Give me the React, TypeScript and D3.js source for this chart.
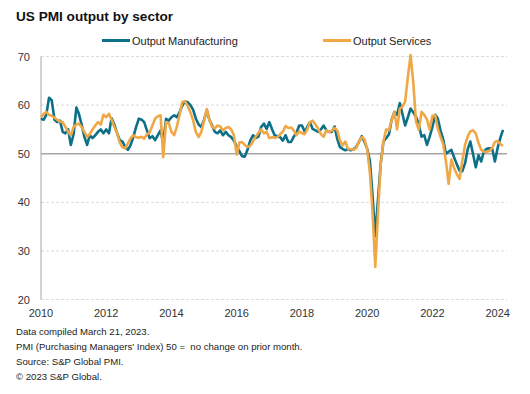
import { useEffect, useRef } from 'react';
import * as d3 from 'd3';

const WIDTH = 530;
const HEIGHT = 394;

// monthly series, Jan 2010 .. Mar 2024
const START_MONTH = new Date(2010, 0, 1);

const MANUFACTURING = [
  57.2, 57.0, 58.0, 61.5, 61.0, 57.0, 56.5, 56.8, 54.5, 54.2, 55.0, 51.8,
  54.0, 59.5, 58.2, 56.0, 53.5, 51.8, 53.8, 53.2, 53.8, 54.5, 55.0, 54.2,
  55.0, 54.2, 57.3, 56.0, 54.3, 52.8, 52.5, 51.4, 50.8, 51.8, 53.5, 55.5,
  57.2, 57.0, 56.5, 54.8, 53.2, 53.6, 52.8, 53.8, 54.8, 52.2, 57.2, 56.8,
  57.5, 57.9, 57.5, 58.5, 59.8, 60.8, 60.6, 60.0, 59.0, 57.2, 56.0, 55.5,
  57.0, 58.9, 57.0, 55.8, 54.5, 54.2, 54.8, 53.8, 54.5, 53.8, 53.4, 52.7,
  51.5, 50.5, 49.5, 49.4, 50.8, 52.7, 53.8, 53.2, 53.5, 55.5, 56.2, 55.1,
  56.5, 55.0, 53.8, 53.6, 53.4, 52.7, 53.8, 52.4, 52.4, 53.5, 54.3, 55.8,
  55.8, 54.5, 55.5, 56.5, 55.1, 54.8, 54.5, 55.0, 55.8, 54.8, 54.5, 54.5,
  55.6, 53.0, 51.4, 51.0, 50.7, 51.0, 50.7, 50.9, 51.4, 52.4, 53.6, 52.5,
  51.0, 48.5, 41.5, 33.0, 40.5, 48.0, 52.5, 53.2, 54.0, 57.0, 58.6, 58.0,
  60.4, 58.0, 55.8, 57.5, 59.3, 58.5, 57.6, 56.0, 53.5, 53.8, 51.8, 53.5,
  55.5, 58.0, 57.3, 54.8, 53.0, 50.0, 50.4, 50.8, 49.2, 47.8, 46.5, 46.4,
  48.0, 51.0, 52.5, 49.9, 47.2, 49.7, 48.4, 50.5, 51.0, 51.1, 51.0, 48.4,
  51.2, 53.3, 54.9
];

const SERVICES = [
  57.5, 58.2, 58.6, 58.0, 57.8, 57.4, 57.0, 56.6, 56.5, 55.5, 54.5, 53.8,
  55.5, 56.0, 56.2, 55.5, 54.5, 53.5, 54.0, 55.0, 55.8, 56.5, 56.0, 58.0,
  57.5, 58.2, 57.0, 55.5, 54.3, 52.3, 51.3, 51.1, 52.2, 53.2, 53.8, 53.4,
  53.3, 53.5, 53.1, 54.0, 54.3, 55.8, 57.2, 57.7, 57.9, 49.3, 56.5, 56.3,
  54.5, 53.8, 55.5, 57.9, 60.6, 60.8, 59.8, 58.5, 56.8, 54.5, 53.4, 54.5,
  56.8, 59.2, 57.0, 55.5, 55.2, 55.8, 55.6, 54.8, 55.3, 55.5, 55.0, 53.8,
  49.8, 52.3, 52.4, 51.8, 51.4, 51.6, 52.5, 53.5, 54.3, 55.0, 54.2, 54.5,
  53.2, 53.4, 53.3, 53.4, 54.0, 54.5, 55.7, 55.3, 55.4, 54.8, 53.8, 54.6,
  54.2, 54.0, 55.0, 56.5, 56.8, 56.0, 55.2, 54.0, 53.5, 54.8, 54.5, 54.7,
  55.3, 54.8, 52.8, 51.7, 52.5, 51.0, 50.9, 50.8, 51.2, 52.5, 53.4, 53.0,
  51.0, 46.0, 38.0, 26.7, 37.5, 47.9, 52.5, 55.0, 54.8, 56.9, 58.6, 55.0,
  59.3, 59.7, 60.7, 65.8, 70.3, 64.5, 56.6, 54.9, 58.6, 58.0, 57.0, 55.0,
  57.8, 57.9, 55.2, 53.5, 52.0, 48.5, 43.8, 48.8, 47.0, 45.8, 44.8, 48.5,
  51.8, 53.6, 54.6, 54.8, 54.2, 52.2, 50.8, 50.4, 50.4, 50.6, 51.2, 52.4,
  52.6, 52.0, 51.6
];

const SERIES_NAMES = ['Output Manufacturing', 'Output Services'];
const SERIES_COLORS = ['#0b7088', '#f0a847'];
const Y_TICKS = [20, 30, 40, 50, 60, 70];

const TITLE = 'US PMI output by sector';
const FOOTNOTES = [
  'Data compiled March 21, 2023.',
  "PMI (Purchasing Managers' Index) 50 =  no change on prior month.",
  'Source: S&P Global PMI.',
  '\u00a9 2023 S&P Global.'
];

const FONT = '"Liberation Sans", Arial, sans-serif';

export default function App() {
  const svgRef = useRef<SVGSVGElement>(null);

  useEffect(() => {
    if (!svgRef.current) return;
    const svg = d3.select(svgRef.current);
    svg.selectAll('*').remove();

    const plot = { left: 41, right: 503, top: 56.5, bottom: 299.5 };
    const gridEnd = 507;

    const x = d3.scaleTime()
      .domain([START_MONTH, d3.timeMonth.offset(START_MONTH, MANUFACTURING.length - 1)])
      .range([plot.left, plot.right]);
    const y = d3.scaleLinear().domain([20, 70]).range([plot.bottom, plot.top]);

    svg.append('rect').attr('width', WIDTH).attr('height', HEIGHT).attr('fill', '#fff');

    // title
    svg.append('text')
      .attr('x', 16).attr('y', 21)
      .attr('font-family', FONT).attr('font-size', 13.6).attr('font-weight', 'bold')
      .attr('fill', '#111')
      .text(TITLE);

    // legend
    const legendX = [102, 323];
    SERIES_NAMES.forEach((name, i) => {
      const g = svg.append('g').attr('transform', `translate(${legendX[i]}, 40.5)`);
      g.append('line').attr('x1', 0).attr('x2', 28)
        .attr('stroke', SERIES_COLORS[i]).attr('stroke-width', 3);
      g.append('text').attr('x', 30).attr('y', 4)
        .attr('font-family', FONT).attr('font-size', 11).attr('fill', '#222')
        .text(name);
    });

    // gridlines
    svg.append('g')
      .selectAll('line')
      .data(Y_TICKS.filter(t => t !== 50))
      .join('line')
      .attr('x1', plot.left).attr('x2', gridEnd)
      .attr('y1', d => y(d)).attr('y2', d => y(d))
      .attr('stroke', '#d9d9d9').attr('stroke-width', 1)
      .attr('stroke-dasharray', '3,2');

    // y axis labels
    svg.append('g')
      .selectAll('text')
      .data(Y_TICKS)
      .join('text')
      .attr('x', 30).attr('y', d => y(d) + 4)
      .attr('text-anchor', 'end')
      .attr('font-family', FONT).attr('font-size', 11).attr('fill', '#333')
      .text(d => d);

    // x axis labels, every second year
    svg.append('g')
      .selectAll('text')
      .data(x.ticks(d3.timeYear.every(2)))
      .join('text')
      .attr('x', d => x(d)).attr('y', 317)
      .attr('text-anchor', 'middle')
      .attr('font-family', FONT).attr('font-size', 11).attr('fill', '#333')
      .text(d => d3.timeFormat('%Y')(d));

    // y axis line
    svg.append('line')
      .attr('x1', plot.left).attr('x2', plot.left)
      .attr('y1', plot.top).attr('y2', plot.bottom)
      .attr('stroke', '#a6a6a6').attr('stroke-width', 1);

    // 50 = no change line
    svg.append('line')
      .attr('x1', plot.left).attr('x2', gridEnd)
      .attr('y1', y(50)).attr('y2', y(50))
      .attr('stroke', '#a6a6a6').attr('stroke-width', 1.6);

    const line = d3.line<number>()
      .x((_d, i) => x(d3.timeMonth.offset(START_MONTH, i)))
      .y(d => y(d));

    [MANUFACTURING, SERVICES].forEach((values, i) => {
      svg.append('path')
        .datum(values)
        .attr('d', line)
        .attr('fill', 'none')
        .attr('stroke', SERIES_COLORS[i])
        .attr('stroke-width', 2.6)
        .attr('stroke-linejoin', 'round');
    });

    // footnotes
    svg.append('g')
      .selectAll('text')
      .data(FOOTNOTES)
      .join('text')
      .attr('x', 16).attr('y', (_d, i) => 335 + i * 15)
      .attr('font-family', FONT).attr('font-size', 9.6).attr('fill', '#222')
      .style('white-space', 'pre')
      .text(d => d);
  }, []);

  return (
    <div style={{ position: 'absolute', left: 0, top: 0 }}>
      <svg ref={svgRef} width={WIDTH} height={HEIGHT}></svg>
    </div>
  );
}
